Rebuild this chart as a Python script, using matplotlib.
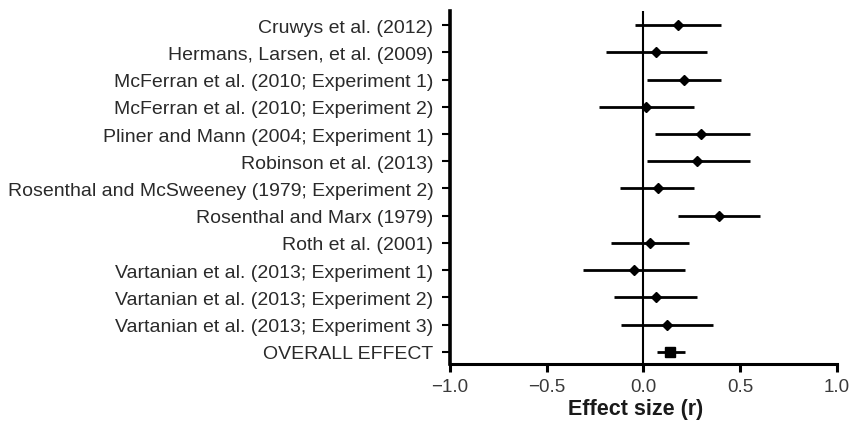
import matplotlib
matplotlib.use("Agg")
import matplotlib.pyplot as plt

studies = [
    "Cruwys et al. (2012)",
    "Hermans, Larsen, et al. (2009)",
    "McFerran et al. (2010; Experiment 1)",
    "McFerran et al. (2010; Experiment 2)",
    "Pliner and Mann (2004; Experiment 1)",
    "Robinson et al. (2013)",
    "Rosenthal and McSweeney (1979; Experiment 2)",
    "Rosenthal and Marx (1979)",
    "Roth et al. (2001)",
    "Vartanian et al. (2013; Experiment 1)",
    "Vartanian et al. (2013; Experiment 2)",
    "Vartanian et al. (2013; Experiment 3)",
]
effect = [0.178, 0.067, 0.21, 0.015, 0.30, 0.28, 0.074, 0.39, 0.036, -0.047, 0.064, 0.123]
ci_low = [-0.045, -0.195, 0.02, -0.23, 0.06, 0.02, -0.12, 0.178, -0.167, -0.31, -0.15, -0.114]
ci_high = [0.40, 0.33, 0.40, 0.26, 0.55, 0.55, 0.26, 0.605, 0.236, 0.215, 0.278, 0.36]

overall_label = "OVERALL EFFECT"
overall_effect = 0.14
overall_low = 0.07
overall_high = 0.213

xticks = [-1.0, -0.5, 0.0, 0.5, 1.0]
xticklabels = ["\u22121.0", "\u22120.5", "0.0", "0.5", "1.0"]

plt.rcParams['font.family'] = ['Liberation Sans', 'DejaVu Sans']

fig = plt.figure(figsize=(8.51, 4.27), dpi=100)
ax = fig.add_axes([450/851, 1-365/427, (836.7-450)/851, (365-12)/427])

ypos = list(range(len(studies)))
for y, e, lo, hi in zip(ypos, effect, ci_low, ci_high):
    ax.plot([lo, hi], [y, y], color='black', lw=2.0, solid_capstyle='butt', zorder=2)
ax.plot(effect, ypos, linestyle='none', marker='D', ms=5.0, mew=1.0, color='black', zorder=3)

yo = len(studies)
ax.plot([overall_low, overall_high], [yo, yo], color='black', lw=2.0, solid_capstyle='butt', zorder=2)
ax.plot([overall_effect], [yo], linestyle='none', marker='s', ms=7.0, mew=1.0, color='black', zorder=3)

ax.axvline(0, color='black', lw=1.5, zorder=1)

ax.set_xlim(-1, 1)
ax.set_ylim(yo + 0.45, -0.52)
ax.set_yticks(ypos + [yo])
ax.set_yticklabels(studies + [overall_label], fontsize=14.0, color='#2a2a2a')
ax.set_xticks(xticks)
ax.set_xticklabels(xticklabels, fontsize=13.5, color='#3a3a3a')
ax.set_xlabel("Effect size (r)", fontsize=15.5, fontweight='bold', color='#1a1a1a', labelpad=2)
ax.xaxis.label.set_x((636 - 450) / 386.7)

for s in ['top', 'right']:
    ax.spines[s].set_visible(False)
ax.spines['left'].set_linewidth(2.6)
ax.spines['bottom'].set_linewidth(2.2)
ax.tick_params(axis='y', length=6, width=1.5, pad=6)
ax.tick_params(axis='x', length=6, width=2.2, pad=4)

fig.savefig("out.png", dpi=100)
